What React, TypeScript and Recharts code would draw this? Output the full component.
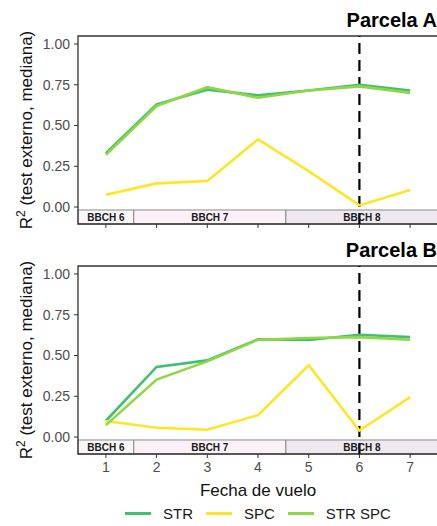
import {
  Legend, Line, LineChart, ReferenceArea, ReferenceLine, XAxis, YAxis,
} from "recharts";

const FECHAS = [1, 2, 3, 4, 5, 6, 7];

const A_STR = [0.33, 0.63, 0.72, 0.685, 0.715, 0.75, 0.715];
const A_SPC = [0.075, 0.145, 0.16, 0.415, 0.22, 0.01, 0.105];
const A_STR_SPC = [0.32, 0.62, 0.735, 0.67, 0.715, 0.74, 0.70];

const B_STR = [0.1, 0.43, 0.47, 0.6, 0.595, 0.627, 0.613];
const B_SPC = [0.098, 0.057, 0.045, 0.134, 0.44, 0.04, 0.245];
const B_STR_SPC = [0.073, 0.352, 0.464, 0.597, 0.607, 0.613, 0.597];

const SERIES = ["STR", "SPC", "STR SPC"];
const Y_TICKS = [0, 0.25, 0.5, 0.75, 1];
const FASES = ["BBCH 6", "BBCH 7", "BBCH 8"];
const FASE_LIMITES = [0.45, 1.55, 4.55, 7.55];
const X_DOMAIN: [number, number] = [0.45, 7.55];
const Y_DOMAIN: [number, number] = [-0.104, 1.049];
const FECHA_CORTE = 6;

const FASE_FILL = ["#f8f6f8", "#fdf1f9", "#efe8f1"];
const COLORS = { STR: "#43bf71", SPC: "#fde725", STR_SPC: "#8fd744" };
const FONT = "'Liberation Sans', Arial, sans-serif";

const rows = (str: number[], spc: number[], both: number[]) =>
  FECHAS.map((f, i) => ({ fecha: f, STR: str[i], SPC: spc[i], STR_SPC: both[i] }));

function YLabel({ viewBox }: any) {
  const cx = (viewBox?.x ?? 0) + 32;
  const cy = (viewBox?.y ?? 0) + (viewBox?.height ?? 0) / 2;
  return (
    <text x={cx} y={cy} transform={`rotate(-90, ${cx}, ${cy})`} textAnchor="middle"
      fontSize={17} fill="#111" fontFamily={FONT}>
      R<tspan dy={-7} fontSize={12}>2</tspan><tspan dy={7}> (test externo, mediana)</tspan>
    </text>
  );
}

function LegendBox({ payload }: any) {
  const items = [...(payload ?? [])].sort((a: any, b: any) => SERIES.indexOf(a.value) - SERIES.indexOf(b.value));
  return (
    <div style={{ display: "flex", alignItems: "center", paddingLeft: 125, fontFamily: FONT, fontSize: 15, color: "#1a1a1a", height: 26 }}>
      {items.map((p: any) => (
        <div key={p.value} style={{ display: "flex", alignItems: "center", marginRight: 13 }}>
          <span style={{ width: 26, height: 3, background: p.color, display: "inline-block", marginRight: 12 }} />
          <span>{p.value}</span>
        </div>
      ))}
    </div>
  );
}

function Panel({ data, titulo, top, ultimo }: { data: any[]; titulo: string; top: number; ultimo: boolean }) {
  const height = ultimo ? 296 : 240;
  return (
    <div style={{ position: "absolute", left: 0, top, width: 445, height }}>
      <div style={{ position: "absolute", left: 0, top: 9, width: 437, textAlign: "right", fontFamily: FONT, fontWeight: 700, fontSize: 20, color: "#000", lineHeight: "23px", whiteSpace: "nowrap" }}>
        {titulo}
      </div>
      <LineChart width={445} height={height} data={data} margin={{ top: 36, right: 7, left: 0, bottom: 0 }}>
        <XAxis dataKey="fecha" type="number" domain={X_DOMAIN} ticks={FECHAS} allowDataOverflow
          height={ultimo ? 46 : 16} axisLine={false} tickSize={4} tickMargin={4}
          tickLine={{ stroke: "#333" }}
          tick={{ fill: "#4d4d4d", fontSize: 14, fontFamily: FONT }}
          tickFormatter={(v: number) => (ultimo ? String(v) : "")}
          label={ultimo ? { value: "Fecha de vuelo", position: "insideBottom", offset: 4, fontSize: 17, fill: "#111", fontFamily: FONT } : undefined}
        />
        <YAxis type="number" domain={Y_DOMAIN} ticks={Y_TICKS} allowDataOverflow width={78}
          axisLine={false} tickSize={4} tickMargin={4} tickLine={{ stroke: "#333" }}
          tick={{ fill: "#4d4d4d", fontSize: 14, fontFamily: FONT }}
          tickFormatter={(v: number) => v.toFixed(2)}
          label={{ content: (props: any) => <YLabel {...props} /> }}
        />
        <ReferenceLine x={FECHA_CORTE} stroke="#000" strokeWidth={2.2} strokeDasharray="11 6" />
        <Line dataKey="STR" name={SERIES[0]} stroke={COLORS.STR} strokeWidth={2.6} dot={false} isAnimationActive={false} />
        <Line dataKey="SPC" name={SERIES[1]} stroke={COLORS.SPC} strokeWidth={2.6} dot={false} isAnimationActive={false} />
        <Line dataKey="STR_SPC" name={SERIES[2]} stroke={COLORS.STR_SPC} strokeWidth={2.6} dot={false} isAnimationActive={false} />
        {FASES.map((fase, i) => (
          <ReferenceArea key={fase} x1={FASE_LIMITES[i]} x2={FASE_LIMITES[i + 1]} y1={Y_DOMAIN[0]} y2={-0.018}
            fill={FASE_FILL[i]} fillOpacity={1} stroke="#8a8a8a" strokeWidth={1}
            label={{ value: fase, position: "center", fontSize: 10, fontWeight: 700, fill: "#1a1a1a", fontFamily: FONT }}
          />
        ))}
        <ReferenceArea x1={X_DOMAIN[0]} x2={X_DOMAIN[1]} y1={Y_DOMAIN[0]} y2={Y_DOMAIN[1]}
          fill="none" stroke="#333" strokeWidth={1.3} />
        {ultimo && <Legend verticalAlign="bottom" height={26} content={(p: any) => <LegendBox {...p} />} />}
      </LineChart>
    </div>
  );
}

export default function App() {
  return (
    <div style={{ position: "absolute", left: 0, top: 0, width: 437, height: 526, overflow: "hidden", background: "#fff" }}>
      <Panel data={rows(A_STR, A_SPC, A_STR_SPC)} titulo="Parcela A" top={0} ultimo={false} />
      <Panel data={rows(B_STR, B_SPC, B_STR_SPC)} titulo="Parcela B" top={230} ultimo />
    </div>
  );
}
